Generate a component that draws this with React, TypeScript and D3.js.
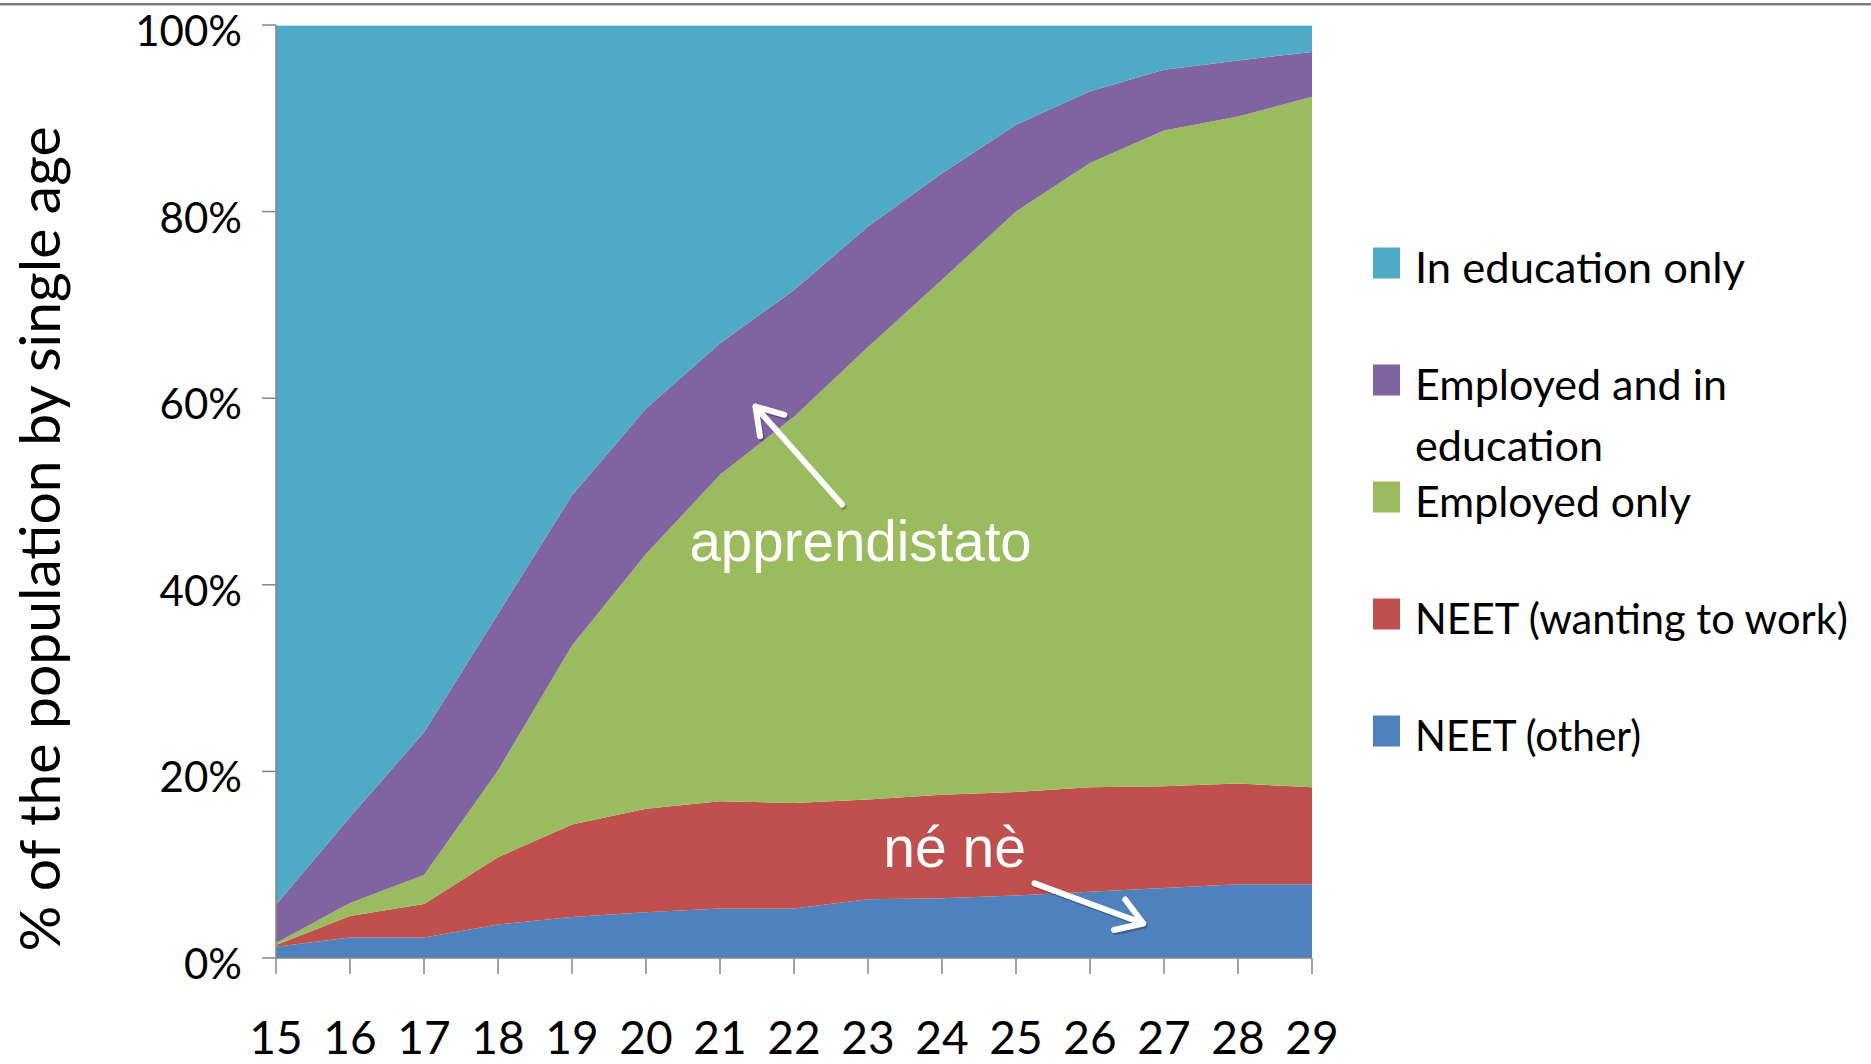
import React from 'react';
import * as d3 from 'd3';

// ages on the x axis
const ages = [15, 16, 17, 18, 19, 20, 21, 22, 23, 24, 25, 26, 27, 28, 29];

// shares of the population (%) per age, bottom layer first
const neetOther = [1.2, 2.2, 2.2, 3.6, 4.4, 4.9, 5.3, 5.3, 6.3, 6.4, 6.7, 7.1, 7.5, 7.9, 7.9];
const neetWanting = [0.2, 2.3, 3.6, 7.2, 9.9, 11.1, 11.5, 11.3, 10.7, 11.1, 11.1, 11.2, 10.9, 10.8, 10.4];
const employedOnly = [0.2, 1.4, 3.1, 9.3, 19.2, 27.3, 35.0, 41.4, 48.5, 55.2, 62.2, 66.9, 70.3, 71.5, 74.0];
const employedAndEdu = [4.1, 9.2, 15.3, 16.8, 16.1, 15.6, 14.1, 13.6, 12.9, 11.4, 9.3, 7.7, 6.5, 6.0, 4.8];
const educationOnly = [94.3, 84.9, 75.8, 63.1, 50.4, 41.1, 34.1, 28.4, 21.6, 15.9, 10.7, 7.1, 4.8, 3.8, 2.9];

const yTicks = [0, 20, 40, 60, 80, 100];

// legend order (top to bottom); widths are the rendered text widths in the slide
const legendItems = [
  { key: 'educationOnly', lines: ['In education only'], widths: [330], color: '#4fabc5' },
  { key: 'employedAndEdu', lines: ['Employed and in', 'education'], widths: [312, 188], color: '#8064a2' },
  { key: 'employedOnly', lines: ['Employed only'], widths: [276], color: '#9bbb5f' },
  { key: 'neetWanting', lines: ['NEET (wanting to work)'], widths: [433], color: '#c0504d' },
  { key: 'neetOther', lines: ['NEET (other)'], widths: [226], color: '#4f81bd' },
];

const stackKeys = ['neetOther', 'neetWanting', 'employedOnly', 'employedAndEdu', 'educationOnly'];

const W = 1871;
const H = 1064;
const axisFont = 'Lato, Calibri, "Open Sans", sans-serif';
const noteFont = '"Liberation Sans", Arial, sans-serif';

const Arrow = ({ x1, y1, x2, y2 }) => {
  const ang = Math.atan2(y2 - y1, x2 - x1);
  const len = 30;
  const spread = Math.PI / 5.5;
  const w1 = [x2 - len * Math.cos(ang - spread), y2 - len * Math.sin(ang - spread)];
  const w2 = [x2 - len * Math.cos(ang + spread), y2 - len * Math.sin(ang + spread)];
  const d = `M${x1},${y1}L${x2},${y2}M${w1[0]},${w1[1]}L${x2},${y2}L${w2[0]},${w2[1]}`;
  return (
    <g fill="none" strokeLinecap="round" strokeLinejoin="round">
      <path d={d} transform="translate(1.5,2)" stroke="rgba(0,0,0,0.25)" strokeWidth={6} />
      <path d={d} stroke="#fff" strokeWidth={6} />
    </g>
  );
};

export default function App() {
  const left = 276;
  const right = 1312;
  const top = 25;
  const bottom = 958;

  const x = d3.scaleLinear().domain([15, 29]).range([left, right]);
  const y = d3.scaleLinear().domain([0, 100]).range([bottom, top]);

  const rows = ages.map((age, i) => ({
    age,
    neetOther: neetOther[i],
    neetWanting: neetWanting[i],
    employedOnly: employedOnly[i],
    employedAndEdu: employedAndEdu[i],
    educationOnly: educationOnly[i],
  }));

  const series = d3.stack().keys(stackKeys)(rows);
  const area = d3
    .area()
    .x((d) => x(d.data.age))
    .y0((d) => y(d[0]))
    .y1((d) => y(d[1]));

  const colorOf = Object.fromEntries(legendItems.map((l) => [l.key, l.color]));

  return (
    <div style={{ position: 'absolute', left: 0, top: 0 }}>
      <svg width={W} height={H} style={{ display: 'block', background: '#fff' }}>
        {/* slide top rule */}
        <rect x={0} y={3} width={W} height={2} fill="#7a7a7a" />
        <rect x={0} y={5} width={W} height={1} fill="#c4c4c4" />

        {/* stacked areas */}
        {series.map((s) => (
          <path key={s.key} d={area(s)} fill={colorOf[s.key]} />
        ))}
        <line x1={left} x2={right} y1={top + 0.5} y2={top + 0.5} stroke="#d8dde0" strokeWidth={1} />

        {/* y axis */}
        <line x1={left} x2={left} y1={top} y2={bottom} stroke="#868686" strokeWidth={1.5} />
        {yTicks.map((t) => (
          <g key={t}>
            <line x1={left - 14} x2={left} y1={y(t)} y2={y(t)} stroke="#868686" strokeWidth={1.5} />
            <text
              x={242}
              y={y(t) + 21}
              textAnchor="end"
              fontFamily={axisFont}
              fontSize={42}
              fill="#000"
            >
              {t}%
            </text>
          </g>
        ))}

        {/* x axis */}
        <line x1={left} x2={right} y1={bottom} y2={bottom} stroke="#868686" strokeWidth={1.5} />
        {ages.map((a) => (
          <g key={a}>
            <line x1={x(a)} x2={x(a)} y1={bottom} y2={bottom + 16} stroke="#868686" strokeWidth={1.5} />
            <text
              x={x(a)}
              y={1054}
              textAnchor="middle"
              fontFamily={axisFont}
              fontSize={46}
              fill="#000"
            >
              {a}
            </text>
          </g>
        ))}

        {/* y axis title */}
        <text
          transform={`translate(60,539) rotate(-90)`}
          textAnchor="middle"
          fontFamily={axisFont}
          fontSize={57}
          fill="#000"
        >
          % of the population by single age
        </text>

        {/* legend */}
        {legendItems.map((l, i) => {
          const cy = 263 + i * 117;
          return (
            <g key={l.key}>
              <rect x={1373} y={cy - 15.5} width={27} height={31} fill={l.color} />
              {l.lines.map((line, j) => (
                <text
                  key={j}
                  x={1415}
                  y={cy + 20 + j * 61}
                  fontFamily={axisFont}
                  fontSize={42}
                  fill="#000"
                  textLength={l.widths[j]}
                  lengthAdjust="spacingAndGlyphs"
                >
                  {line}
                </text>
              ))}
            </g>
          );
        })}

        {/* annotations */}
        <Arrow x1={x(22.65)} y1={y(48.6)} x2={x(21.48)} y2={y(59.1)} />
        <text
          x={x(22.9)}
          y={y(42.5)}
          textAnchor="middle"
          fontFamily={noteFont}
          fontSize={56.5}
          fill="#fff"
        >
          apprendistato
        </text>
        <Arrow x1={x(25.25)} y1={y(8.0)} x2={x(26.72)} y2={y(3.7)} />
        <text
          x={x(24.17)}
          y={y(9.8)}
          textAnchor="middle"
          fontFamily={noteFont}
          fontSize={57}
          fill="#fff"
        >
          né nè
        </text>
      </svg>
    </div>
  );
}
